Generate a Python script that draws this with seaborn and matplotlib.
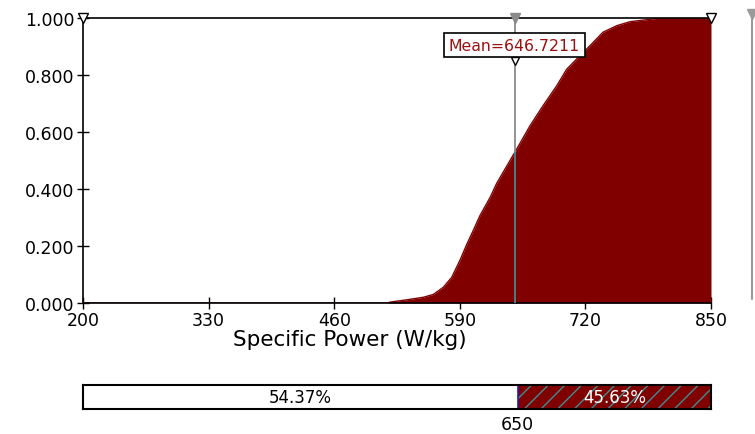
import numpy as np
import pandas as pd
import matplotlib
matplotlib.use("Agg")
import matplotlib.pyplot as plt
import seaborn as sns

# Data (cumulative probability of Specific Power)
power = [200, 515, 517.8, 536.7, 552.2, 562.6, 572.9, 581.6, 590.2, 597.1, 604.0,
         610.9, 621.3, 628.2, 648.9, 662.7, 676.1, 690.3, 700.6, 711.0, 724.8,
         738.2, 752.4, 766.2, 783.4, 797.2, 850]
cum_prob = [0.0, 0.0, 0.003, 0.012, 0.02, 0.03, 0.055, 0.09, 0.15, 0.205, 0.255,
            0.307, 0.37, 0.42, 0.54, 0.622, 0.692, 0.762, 0.82, 0.856, 0.903,
            0.95, 0.973, 0.987, 0.994, 1.0, 1.0]
mean_value = 646.7211
threshold = 650
pct_below = 54.37
pct_above = 45.63
x_ticks = [200, 330, 460, 590, 720, 850]
y_ticks = [0.0, 0.2, 0.4, 0.6, 0.8, 1.0]
xlabel = "Specific Power (W/kg)"

sns.set_style("ticks")
plt.rcParams['font.family'] = ['DejaVu Sans']
plt.rcParams['text.color'] = 'black'
plt.rcParams['xtick.color'] = 'black'
plt.rcParams['ytick.color'] = 'black'

W, H = 755, 435
fig = plt.figure(figsize=(W / 100, H / 100), dpi=100)

def rect(l, t, r, b):
    return [l / W, 1 - b / H, (r - l) / W, (b - t) / H]

ax = fig.add_axes(rect(83, 19, 711, 304))
df = pd.DataFrame({"power": power, "p": cum_prob})
red = "#800000"
sns.lineplot(data=df, x="power", y="p", ax=ax, color=red, linewidth=1)
ax.fill_between(df["power"], df["p"], 0, color=red, linewidth=0)

ax.set_xlim(200, 850)
ax.set_ylim(0, 1.0)
ax.set_xticks(x_ticks)
ax.set_yticks(y_ticks)
ax.set_yticklabels([f"{v:.3f}" for v in y_ticks])
ax.tick_params(axis="both", direction="inout", length=9, width=1, color="black",
               labelsize=12.5, labelcolor="black", pad=1.5, bottom=True, left=True)
ax.set_xlabel("")
ax.set_ylabel("")
for s in ax.spines.values():
    s.set_color("black")
    s.set_linewidth(1.2)
ax.spines["right"].set_visible(False)

# mean line
mean_cdf = float(np.interp(mean_value, power, cum_prob))
ax.axvline(mean_value, color="#8a8a8a", linewidth=1.3, zorder=3)
ax.plot([mean_value, mean_value], [0, mean_cdf], color="#3f7f86", linewidth=1.3, zorder=4)
ax.text(mean_value, 0.905, f"Mean={mean_value:.4f}", color="#9b1010", fontsize=11.3,
        ha="center", va="center", zorder=5,
        bbox=dict(boxstyle="square,pad=0.3", fc="white", ec="black", lw=1.2))
# markers at top
ax.plot([200], [1.0], marker="v", ms=7, mfc="white", mec="black", clip_on=False, zorder=6)
ax.plot([850], [1.0], marker="v", ms=7, mfc="white", mec="black", clip_on=False, zorder=6)
ax.plot([mean_value], [1.0], marker="v", ms=7, mfc="#8a8a8a", mec="#8a8a8a", clip_on=False, zorder=6)
ax.plot([mean_value], [0.85], marker="v", ms=6, mfc="white", mec="black", clip_on=False, zorder=6)

# right-side grey line
fig.add_artist(plt.Line2D([752 / W, 752 / W], [1 - 15 / H, 1 - 300 / H],
                          color="#9a9a9a", lw=1.5))
fig.add_artist(plt.Line2D([752 / W], [1 - 15 / H], marker="v", ms=7,
                          color="#9a9a9a"))

fig.text(350 / W, 1 - 340 / H, xlabel, ha="center", va="center", fontsize=15.5,
         color="black")

# bottom bar
bx = fig.add_axes(rect(83, 386, 711, 410))
bar_df = pd.DataFrame({"start": [200, threshold], "width": [threshold - 200, 850 - threshold]})
bx.barh([0, 0], bar_df["width"], left=bar_df["start"], height=1,
        color=["white", red], edgecolor="none")
bx.barh([0], [850 - threshold], left=[threshold], height=1, color="none",
        edgecolor="#3f8f96", hatch="//", linewidth=0)
bx.axvline(threshold, color="#1a1acc", lw=1.2)
bx.set_xlim(200, 850)
bx.set_ylim(-0.5, 0.5)
bx.set_yticks([])
bx.set_xticks([threshold])
bx.set_xticklabels([f"{threshold}"])
bx.tick_params(axis="x", length=0, labelsize=12.5, pad=4, labelcolor="black")
for s in bx.spines.values():
    s.set_color("black")
    s.set_linewidth(1.5)
bx.text((200 + threshold) / 2, 0, f"{pct_below:.2f}%", ha="center", va="center",
        fontsize=12, color="black")
bx.text((threshold + 850) / 2, 0, f"{pct_above:.2f}%", ha="center", va="center",
        fontsize=12, color="white")

fig.savefig("out.png", dpi=100)
